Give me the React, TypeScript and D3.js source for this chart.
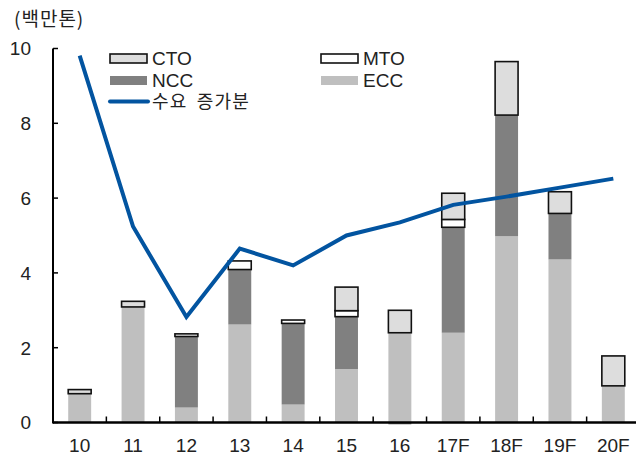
import * as d3 from 'd3'

const width = 636
const height = 456
const margin = { top: 48.5, right: 0, bottom: 33, left: 53 }

const categories = ['10', '11', '12', '13', '14', '15', '16', '17F', '18F', '19F', '20F']
const ecc = [0.77, 3.09, 0.4, 2.62, 0.48, 1.43, 2.4, 2.4, 4.98, 4.36, 0.98]
const ncc = [0, 0, 1.9, 1.47, 2.17, 1.4, -0.05, 2.82, 3.24, 1.23, 0]
const mto = [0, 0, 0.07, 0.23, 0.09, 0.16, 0, 0.21, 0, 0, 0]
const cto = [0.11, 0.15, 0, 0, 0, 0.63, 0.6, 0.7, 1.43, 0.58, 0.8]
const demand = [9.81, 5.24, 2.82, 4.65, 4.2, 5.0, 5.35, 5.82, 6.04, 6.28, 6.52]
const yTicks = [0, 2, 4, 6, 8, 10]

const seriesKeys = ['ECC', 'NCC', 'MTO', 'CTO']
const fills: Record<string, string> = { ECC: '#bfbfbf', NCC: '#808080', MTO: '#ffffff', CTO: '#dddddd' }
const outlined: Record<string, boolean> = { ECC: false, NCC: false, MTO: true, CTO: true }
const lineColor = '#0254a0'
const font = '"Liberation Sans", Arial, sans-serif'
const krFont = '"Noto Sans CJK KR", sans-serif'

function App() {
  const innerHeight = height - margin.top - margin.bottom
  const x = d3
    .scaleBand()
    .domain(categories)
    .range([margin.left, 640])
    .paddingInner(0.57)
    .paddingOuter(0.285)
  const y = d3.scaleLinear().domain([0, 10]).range([margin.top + innerHeight - 0.5, margin.top])

  const rows = categories.map((c, i) => ({ cat: c, ECC: ecc[i], NCC: ncc[i], MTO: mto[i], CTO: cto[i] }))
  const stacked = d3.stack<any>().keys(seriesKeys).offset(d3.stackOffsetDiverging)(rows)

  const line = d3
    .line<number>()
    .x((_, i) => (x(categories[i]) as number) + x.bandwidth() / 2)
    .y((d) => y(d))

  const step = x.step()
  const y0 = y(0)

  const legendLeft = [
    { key: 'CTO', x: 110, y: 54 },
    { key: 'NCC', x: 110, y: 76 },
  ]
  const legendRight = [
    { key: 'MTO', x: 321, y: 54 },
    { key: 'ECC', x: 321, y: 76 },
  ]

  return (
    <svg width={width} height={height} style={{ position: 'absolute', left: 0, top: 0 }}>
      <rect width={width} height={height} fill="#fff" />
      <text x={14} y={19} dy="0.36em" fontFamily={krFont} fontSize={19} letterSpacing={1} fill="#222">
        (백만톤)
      </text>

      {stacked.map((s) =>
        s.map((d, i) => {
          const top = Math.max(d[0], d[1])
          const bot = Math.min(d[0], d[1])
          if (top - bot <= 0) return null
          const o = outlined[s.key]
          return (
            <rect
              key={s.key + i}
              x={x(categories[i])}
              y={y(top)}
              width={x.bandwidth()}
              height={y(bot) - y(top)}
              fill={fills[s.key]}
              stroke={o ? '#111' : 'none'}
              strokeWidth={o ? 1.6 : 0}
            />
          )
        })
      )}

      {/* axes */}
      <line x1={margin.left} x2={margin.left} y1={y(10)} y2={y0 + 1} stroke="#000" strokeWidth={2} />
      <line x1={margin.left} x2={width} y1={y0} y2={y0} stroke="#000" strokeWidth={2.5} />
      {yTicks.map((t) => (
        <g key={t}>
          <line x1={margin.left} x2={margin.left + 5} y1={y(t)} y2={y(t)} stroke="#000" strokeWidth={1.5} />
          <text x={31} y={y(t)} dy="0.36em" textAnchor="end" fontFamily={font} fontSize={19} fill="#222">
            {t}
          </text>
        </g>
      ))}
      {categories.slice(1).map((c) => {
        const bx = (x(c) as number) - (step - x.bandwidth()) / 2
        return <line key={c} x1={bx} x2={bx} y1={y0} y2={y0 - 6} stroke="#000" strokeWidth={1.5} />
      })}
      {categories.map((c) => (
        <text
          key={c}
          x={(x(c) as number) + x.bandwidth() / 2}
          y={452}
          textAnchor="middle"
          fontFamily={font}
          fontSize={19}
          fill="#222"
        >
          {c}
        </text>
      ))}

      <path d={line(demand) as string} fill="none" stroke={lineColor} strokeWidth={4} strokeLinejoin="miter" />

      {/* legend */}
      {[...legendLeft, ...legendRight].map((l) => (
        <g key={l.key}>
          <rect
            x={l.x}
            y={l.y}
            width={37}
            height={9}
            fill={fills[l.key]}
            stroke={outlined[l.key] ? '#111' : 'none'}
            strokeWidth={1.6}
          />
          <text x={l.x + 42} y={l.y + 4.5} dy="0.36em" fontFamily={font} fontSize={19} fill="#222">
            {l.key}
          </text>
        </g>
      ))}
      <line x1={110} x2={148} y1={101.5} y2={101.5} stroke={lineColor} strokeWidth={4} strokeLinecap="round" />
      <text x={152} y={102} dy="0.36em" fontFamily={krFont} fontSize={18} letterSpacing={1.2} wordSpacing={4} fill="#222">
        수요 증가분
      </text>
    </svg>
  )
}

export default App
